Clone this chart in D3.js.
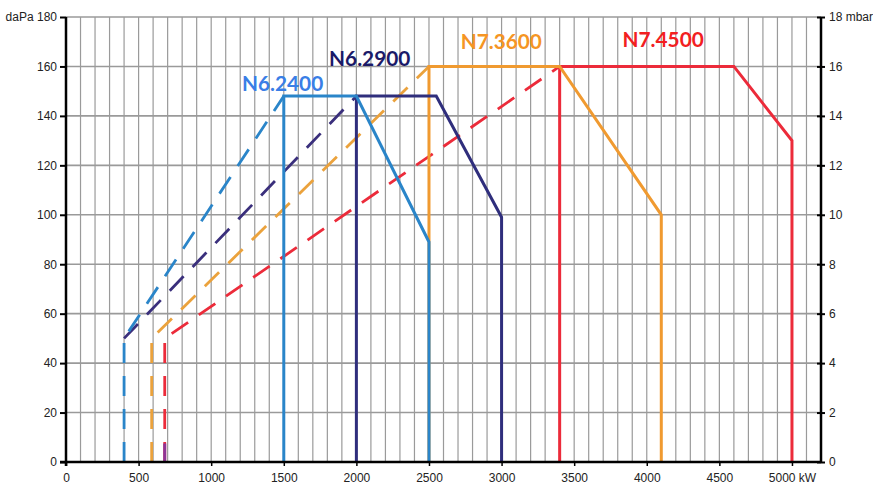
<!DOCTYPE html>
<html><head><meta charset="utf-8">
<script src="https://cdn.jsdelivr.net/npm/d3@7"></script>
<style>
html,body{margin:0;padding:0;background:#fff;}
svg{display:block;}
</style></head>
<body>
<svg id="chart" width="873" height="486"></svg>
<script>
// ---- data ----
const xTicks = [0,500,1000,1500,2000,2500,3000,3500,4000,4500,5000];
const xTickLabels = ["0","500","1000","1500","2000","2500","3000","3500","4000","4500","5000 kW"];
const yTicks = [0,20,40,60,80,100,120,140,160,180];
const yLeftLabels = ["0","20","40","60","80","100","120","140","160","daPa 180"];
const yRightLabels = ["0","2","4","6","8","10","12","14","16","18 mbar"];

const seriesNames = ["N6.2400","N6.2900","N7.3600","N7.4500"];
// solid operating envelopes [kW, daPa]
const solid2400 = [[1500,0],[1500,148],[2000,148],[2500,89],[2500,0]];
const solid2900 = [[2000,0],[2000,148],[2550,148],[3000,99],[3000,0]];
const solid3600 = [[2500,0],[2500,160],[3400,160],[4100,100],[4100,0]];
const solid4500 = [[3400,0],[3400,160],[4600,160],[5000,130],[5000,0]];
// dashed start-up lines
const dash2400 = [[400,0],[400,50],[1500,148]];
const dash2900 = [[400,50],[2000,148]];
const dash3600 = [[590,0],[590,50],[2500,160]];
const dash4500 = [[680,0],[680,50],[3400,160]];
const dashPurple = [[680,0],[680,7.5]];
// label anchors [kW, daPa]
const labelPos = [[1212,150],[1812,160],[2718,167],[3833,168]];

// ---- layout ----
const svg = d3.select("#chart");
const x = d3.scaleLinear().domain([0,5200]).range([66,821]);
const y = d3.scaleLinear().domain([0,180]).range([462,17]);

const colors = {line2400:"#2a85c9", line2900:"#2f2e7c", line3600:"#f09a30", line4500:"#ec2b3a"};
const dashColors = {line2400:"#2a85c9", line2900:"#3a2f7c", line3600:"#eba23c", line4500:"#ec2b3a"};
const labelColors = ["#3a7ee6","#1b1a68","#f59524","#f2201f"];

// grid
const g = svg.append("g");
g.selectAll("line.v").data(d3.range(100,5201,100)).join("line")
  .attr("x1",d=>x(d)).attr("x2",d=>x(d)).attr("y1",y(0)).attr("y2",y(180))
  .attr("stroke","#9a9a9a").attr("stroke-width",1.2);
g.selectAll("line.h").data(yTicks.slice(1)).join("line")
  .attr("x1",x(0)).attr("x2",x(5200)).attr("y1",d=>y(d)).attr("y2",d=>y(d))
  .attr("stroke","#9a9a9a").attr("stroke-width",1.6);

const line = d3.line().x(d=>x(d[0])).y(d=>y(d[1]));

function dashed(data,col){
  svg.append("path").attr("d",line(data)).attr("fill","none")
    .attr("stroke",col).attr("stroke-width",2.8).attr("stroke-dasharray","20,13");
}
function solid(data,col){
  svg.append("path").attr("d",line(data)).attr("fill","none")
    .attr("stroke",col).attr("stroke-width",3).attr("stroke-linejoin","miter");
}
dashed(dash4500,dashColors.line4500);
dashed(dash3600,dashColors.line3600);
dashed(dash2900,dashColors.line2900);
dashed(dash2400,dashColors.line2400);
svg.append("path").attr("d",line(dashPurple)).attr("stroke","#8e3596").attr("stroke-width",3).attr("fill","none");

solid(solid4500,colors.line4500);
solid(solid3600,colors.line3600);
solid(solid2900,colors.line2900);
solid(solid2400,colors.line2400);

// axes
const fontFam = "'Liberation Sans', Arial, sans-serif";
const axBottom = svg.append("g").attr("transform",`translate(0,${y(0)})`)
  .call(d3.axisBottom(x).tickValues(xTicks).tickSize(4).tickFormat((d,i)=>xTickLabels[i]));
axBottom.select(".domain").attr("d",`M${x(0)-6},0H${x(5200)}`).attr("stroke","#000").attr("stroke-width",2.5);
axBottom.selectAll(".tick line").attr("stroke","#000").attr("stroke-width",1.5).attr("y1",-1);
axBottom.selectAll("text").attr("font-family",fontFam).attr("font-size",12).attr("fill","#222").attr("dy","1.05em");

const axLeft = svg.append("g").attr("transform",`translate(${x(0)},0)`)
  .call(d3.axisLeft(y).tickValues(yTicks).tickSize(6).tickFormat((d,i)=>yLeftLabels[i]));
axLeft.select(".domain").attr("d",`M0,${y(180)}V${y(0)+4}`).attr("stroke","#000").attr("stroke-width",2.5);
axLeft.selectAll(".tick line").attr("stroke","#000").attr("stroke-width",2);
axLeft.selectAll("text").attr("font-family",fontFam).attr("font-size",12).attr("fill","#222").attr("x",-9);

const axRight = svg.append("g").attr("transform",`translate(${x(5200)},0)`)
  .call(d3.axisRight(y).tickValues(yTicks).tickSize(4).tickFormat((d,i)=>yRightLabels[i]));
axRight.select(".domain").attr("d",`M0,${y(180)}V${y(0)}`).attr("stroke","#000").attr("stroke-width",2.5);
axRight.selectAll(".tick line").attr("stroke","#000").attr("stroke-width",2).attr("x1",-4);
axRight.selectAll("text").attr("font-family",fontFam).attr("font-size",12).attr("fill","#222").attr("x",8);

// series labels
svg.selectAll("text.lbl").data(seriesNames).join("text")
  .attr("class","lbl")
  .attr("x",(d,i)=>x(labelPos[i][0])).attr("y",(d,i)=>y(labelPos[i][1]))
  .attr("font-family","Lato, 'Open Sans', sans-serif").attr("font-weight","bold")
  .attr("font-size",20.8).attr("fill",(d,i)=>labelColors[i]).text(d=>d);
</script>
</body></html>
